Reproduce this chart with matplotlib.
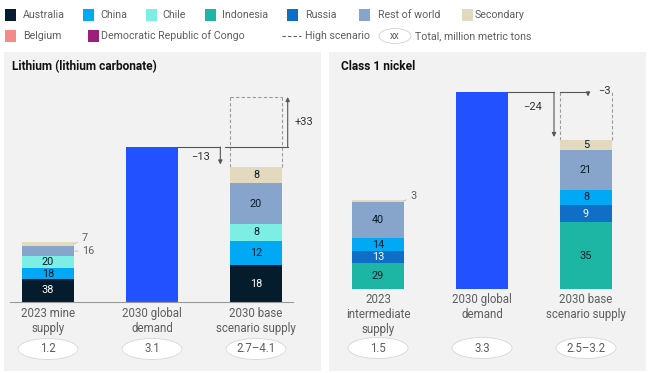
import matplotlib
matplotlib.use("Agg")
import matplotlib.pyplot as plt
from matplotlib.patches import Rectangle, Ellipse
from matplotlib.transforms import blended_transform_factory

# ---------------- data ----------------
legend_row1 = ["Australia", "China", "Chile", "Indonesia", "Russia", "Rest of world", "Secondary"]
legend_row2 = ["Belgium", "Democratic Republic of Congo"]

li_title = "Lithium (lithium carbonate)"
li_categories = ["2023 mine\nsupply", "2030 global\ndemand", "2030 base\nscenario supply"]
li_supply_2023 = 1.2
li_demand_2030 = 3.1
li_base_2030 = 2.7
li_high_2030 = 4.1
li_shares_2023 = {"Australia": 38, "China": 18, "Chile": 20, "Rest of world": 16, "Secondary": 7}
li_shares_2030 = {"Australia": 18, "China": 12, "Chile": 8, "Rest of world": 20, "Secondary": 8}
li_gap_base = "−13"
li_gap_high = "+33"
li_total_labels = ["1.2", "3.1", "2.7–4.1"]

ni_title = "Class 1 nickel"
ni_categories = ["2023\nintermediate\nsupply", "2030 global\ndemand", "2030 base\nscenario supply"]
ni_supply_2023 = 1.5
ni_demand_2030 = 3.3
ni_base_2030 = 2.5
ni_high_2030 = 3.2
ni_shares_2023 = {"Indonesia": 29, "Russia": 13, "China": 14, "Rest of world": 40, "Secondary": 3}
ni_shares_2030 = {"Indonesia": 35, "Russia": 9, "China": 8, "Rest of world": 21, "Secondary": 5}
ni_gap_base = "−24"
ni_gap_high = "−3"
ni_total_labels = ["1.5", "3.3", "2.5–3.2"]

# ---------------- style ----------------
colors = {
    "Australia": "#051c2c", "China": "#00a9f4", "Chile": "#7deee3", "Indonesia": "#1db6a4",
    "Russia": "#0f6fc6", "Rest of world": "#87a5cb", "Secondary": "#e3d9be",
    "Belgium": "#f38b8b", "Democratic Republic of Congo": "#9c1f7c",
}
white_text = {"Australia", "Russia"}
DEMAND = "#2251ff"
BG = "#f2f2f2"
TXT = "#5e5e5e"
LINE = "#555555"
FONT = ["Roboto", "DejaVu Sans"]
plt.rcParams["font.family"] = FONT

W, H = 650, 373
fig = plt.figure(figsize=(W / 100, H / 100), dpi=100)
fig.patch.set_facecolor("white")


def fx(x):
    return x / W


def fy(y):
    return 1 - y / H


# panels
for x0, x1 in [(4, 321), (329, 646)]:
    fig.patches.append(Rectangle((fx(x0), fy(371)), fx(x1 - x0), (371 - 52) / H,
                                 transform=fig.transFigure, facecolor=BG, edgecolor="none", zorder=-5))

# legend
fs_leg = 7.7
SQ = 11
row1_x = [(5, 23), (83, 100), (146, 162), (205, 222), (287, 305), (359, 378), (462, 475)]
for name, (sx, tx) in zip(legend_row1, row1_x):
    fig.patches.append(Rectangle((fx(sx), fy(15 + SQ / 2)), fx(SQ), SQ / H, transform=fig.transFigure,
                                 facecolor=colors[name], edgecolor="none"))
    fig.text(fx(tx), fy(15), name, fontsize=fs_leg, color=TXT, va="center", ha="left")
row2_x = [(5, 23), (88, 101)]
for name, (sx, tx) in zip(legend_row2, row2_x):
    fig.patches.append(Rectangle((fx(sx), fy(36 + SQ / 2)), fx(SQ), SQ / H, transform=fig.transFigure,
                                 facecolor=colors[name], edgecolor="none"))
    fig.text(fx(tx), fy(36), name, fontsize=fs_leg, color=TXT, va="center", ha="left")
fig.lines.append(plt.Line2D([fx(282), fx(301)], [fy(36), fy(36)], transform=fig.transFigure,
                            color=TXT, lw=0.8, ls=(0, (3, 2))))
fig.text(fx(305), fy(36), "High scenario", fontsize=fs_leg, color=TXT, va="center")
fig.patches.append(Ellipse((fx(395), fy(36)), fx(32), 15 / H, transform=fig.transFigure,
                           facecolor="white", edgecolor="#d0d0d0", lw=0.6))
fig.text(fx(395), fy(36), "xx", fontsize=7, color=TXT, va="center", ha="center")
fig.text(fx(415), fy(36), "Total, million metric tons", fontsize=fs_leg, color=TXT, va="center")


def panel(title, title_xy, ax_px, centers_px, ppu, base_px, cats, supply, demand, base, high,
          shares_a, shares_b, gap_base, gap_high, total_labels, outside, baseline, gap_xy, cat_top, ell_y,
          tick_xy_arrow, high_arrow_x):
    left_px, right_px, top_px = ax_px
    spacing = centers_px[1] - centers_px[0]
    xl = ((left_px - centers_px[0]) / spacing, (right_px - centers_px[0]) / spacing)
    yl = (0, (base_px - top_px) / ppu)
    ax = fig.add_axes([fx(left_px), fy(base_px), fx(right_px - left_px), (base_px - top_px) / H])
    ax.set_xlim(*xl)
    ax.set_ylim(*yl)
    ax.axis("off")
    ax.patch.set_alpha(0)
    bw = 0.5
    fig.text(fx(title_xy[0]), fy(title_xy[1]), title, fontsize=8.6, fontweight="bold", color="#111111",
             va="center", ha="left")

    def stack(xpos, total, shares):
        s = sum(shares.values())
        bottom = 0
        for name, v in shares.items():
            h = v / s * total
            ax.bar(xpos, h, bw, bottom=bottom, color=colors[name], edgecolor="none", zorder=2)
            mid = bottom + h / 2
            if name in outside.get(xpos, {}):
                dx, dy = outside[xpos][name]
                ax.annotate(str(v), xy=(xpos + bw / 2, mid), xytext=(xpos + bw / 2 + dx, mid + dy),
                            fontsize=7.8, color=TXT, va="center", ha="left",
                            arrowprops=dict(arrowstyle="-", color="#bbbbbb", lw=0.6, shrinkA=1, shrinkB=0))
            else:
                ax.text(xpos, mid, str(v), fontsize=7.8, ha="center", va="center",
                        color="white" if name in white_text else "#051c2c", zorder=3)
            bottom += h

    stack(0, supply, shares_a)
    ax.bar(1, demand, bw, color=DEMAND, edgecolor="none", zorder=2)
    stack(2, base, shares_b)

    # dashed high-scenario box
    top = max(high, demand)
    dash = dict(color="#9a9a9a", lw=0.8, ls=(0, (3, 2)), zorder=1)
    ax.plot([2 - bw / 2, 2 - bw / 2], [base, top], **dash)
    ax.plot([2 + bw / 2, 2 + bw / 2], [base, top], **dash)
    if high > demand:
        ax.plot([2 - bw / 2, 2 + bw / 2], [high, high], **dash)

    arr = dict(arrowstyle="-|>", color=LINE, lw=0.8, mutation_scale=6, shrinkA=0, shrinkB=0)
    xa = tick_xy_arrow
    ax.plot([1 + bw / 2, xa], [demand, demand], color=LINE, lw=0.8)
    ax.annotate("", xy=(xa, base + 0.05), xytext=(xa, demand), arrowprops=arr)
    ax.text(gap_xy[0][0], gap_xy[0][1], gap_base, fontsize=8, color="#333333", ha="right", va="center")
    if high > demand:
        ax.plot([2 - bw / 2 - 0.05, high_arrow_x], [demand, demand], color=LINE, lw=0.8)
        ax.annotate("", xy=(high_arrow_x, high), xytext=(high_arrow_x, demand), arrowprops=arr)
    else:
        ax.plot([2 - bw / 2, high_arrow_x], [demand, demand], color=LINE, lw=0.8)
        ax.annotate("", xy=(high_arrow_x, high + 0.03), xytext=(high_arrow_x, demand), arrowprops=arr)
    ax.text(gap_xy[1][0], gap_xy[1][1], gap_high, fontsize=8, color="#333333", ha="left", va="center")

    if baseline:
        ax.plot([xl[0], xl[1]], [0, 0], color="#9a9a9a", lw=0.8, clip_on=False, zorder=3)

    tr = blended_transform_factory(ax.transData, fig.transFigure)
    for i, (c, t) in enumerate(zip(cats, total_labels)):
        ax.text(i, fy(cat_top), c, transform=tr, fontsize=8.3, color=TXT, ha="center", va="top",
                linespacing=1.2)
        ax.add_patch(Ellipse((i, fy(ell_y)), 60 / spacing, 21 / H, transform=tr, facecolor="white",
                             edgecolor="#d6d6d6", lw=0.6, clip_on=False))
        ax.text(i, fy(ell_y), t, transform=tr, fontsize=8.3, color=TXT, ha="center", va="center")
    return ax


panel(li_title, (12, 67), (10, 293, 80), (48, 152, 258), 50.0, 302, li_categories,
      li_supply_2023, li_demand_2030, li_base_2030, li_high_2030, li_shares_2023, li_shares_2030,
      li_gap_base, li_gap_high, li_total_labels,
      outside={0: {"Rest of world": (0.08, 0.0), "Secondary": (0.07, 0.12)}}, baseline=True,
      gap_xy=((1.56, 2.9), (2.37, 3.6)), cat_top=307, ell_y=349,
      tick_xy_arrow=(222 - 48) / 105, high_arrow_x=(290 - 48) / 105)

panel(ni_title, (341, 66), (335, 625, 80), (378, 482, 586), 59.6, 289, ni_categories,
      ni_supply_2023, ni_demand_2030, ni_base_2030, ni_high_2030, ni_shares_2023, ni_shares_2030,
      ni_gap_base, ni_gap_high, ni_total_labels,
      outside={0: {"Secondary": (0.06, 0.08)}}, baseline=False,
      gap_xy=((1.58, 3.05), (2.12, 3.32)), cat_top=293, ell_y=348,
      tick_xy_arrow=(554 - 378) / 104, high_arrow_x=(588 - 378) / 104)

fig.savefig("out.png", dpi=100, facecolor="white")
